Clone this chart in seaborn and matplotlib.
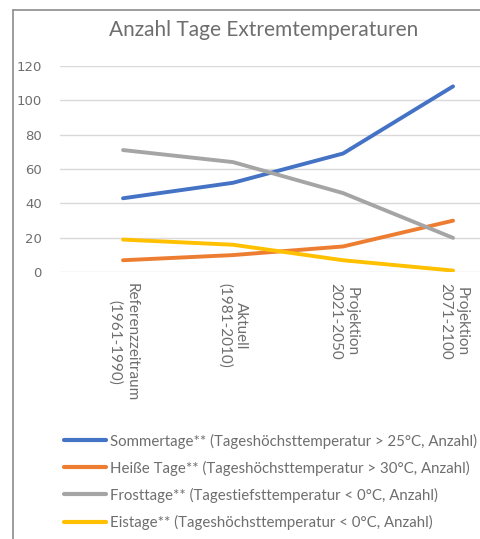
import matplotlib
matplotlib.use("Agg")
import matplotlib.pyplot as plt
import seaborn as sns
import pandas as pd
from matplotlib.lines import Line2D

categories = ["Referenzzeitraum\n(1961-1990)", "Aktuell\n(1981-2010)",
              "Projektion\n2021-2050", "Projektion\n2071-2100"]
y_ticks = [0, 20, 40, 60, 80, 100, 120]
sommertage = [43, 52, 69, 108]
heisse_tage = [7, 10, 15, 30]
frosttage = [71, 64, 46, 20]
eistage = [19, 16, 7, 1]
series_names = [
    "Sommertage** (Tageshöchsttemperatur > 25°C, Anzahl)",
    "Heiße Tage** (Tageshöchsttemperatur > 30°C, Anzahl)",
    "Frosttage** (Tagestiefsttemperatur < 0°C, Anzahl)",
    "Eistage** (Tageshöchsttemperatur < 0°C, Anzahl)",
]
series_values = [sommertage, heisse_tage, frosttage, eistage]
colors = ["#4472C4", "#ED7D31", "#A5A5A5", "#FFC000"]

rows = []
for name, vals in zip(series_names, series_values):
    for i, v in enumerate(vals):
        rows.append({"pos": i, "Serie": name, "Tage": v})
df = pd.DataFrame(rows)

sns.set_theme(style="white")
plt.rcParams["font.family"] = ["Lato", "DejaVu Sans"]

fig = plt.figure(figsize=(4.8, 5.39), dpi=100)
W, H = 480, 539
ax = fig.add_axes([60 / W, 1 - 272.3 / H, 1 - 60 / W, (272.3 - 65.7) / H])

sns.lineplot(data=df, x="pos", y="Tage", hue="Serie", palette=colors,
             hue_order=series_names, linewidth=2.8, ax=ax, sort=False,
             legend=True)
handles, labels = ax.get_legend_handles_labels()
ax.get_legend().remove()

ax.set_ylim(0, 120)
ax.set_yticks(y_ticks, labels=[str(v) for v in y_ticks],
              fontfamily="DejaVu Sans", fontsize=9.5, color="#6E6E6E")
ax.set_xlim(-0.573, 3.245)
ax.set_xticks(range(len(categories)), labels=categories, rotation=-90,
              ha="center", va="top", multialignment="center",
              fontsize=11, color="#6E6E6E")
ax.grid(axis="y", color="#D9D9D9", linewidth=1)
ax.grid(axis="x", visible=False)
for s in ax.spines.values():
    s.set_visible(False)
ax.tick_params(axis="y", length=0, pad=13)
ax.tick_params(axis="x", length=0, pad=8)
ax.set_xlabel("")
ax.set_ylabel("")

fig.text(264 / W, 1 - 30 / H, "Anzahl Tage Extremtemperaturen", ha="center",
         va="center", fontsize=15, color="#6E6E6E")

leg = fig.legend(handles, labels, loc="upper left",
                 bbox_to_anchor=(50 / W, 1 - 420 / H), frameon=False,
                 fontsize=10.8, handlelength=2.85, handletextpad=0.25,
                 labelspacing=0.8, labelcolor="#6E6E6E")
for line in leg.get_lines():
    line.set_linewidth(3)

border_color = "#8C8C8C"
fig.add_artist(Line2D([13 / W, 13 / W], [0, 1 - 10 / H], transform=fig.transFigure,
                      color=border_color, linewidth=1.2))
fig.add_artist(Line2D([13 / W, 1], [1 - 10 / H, 1 - 10 / H], transform=fig.transFigure,
                      color=border_color, linewidth=1.2))

fig.savefig("out.png", dpi=100)
